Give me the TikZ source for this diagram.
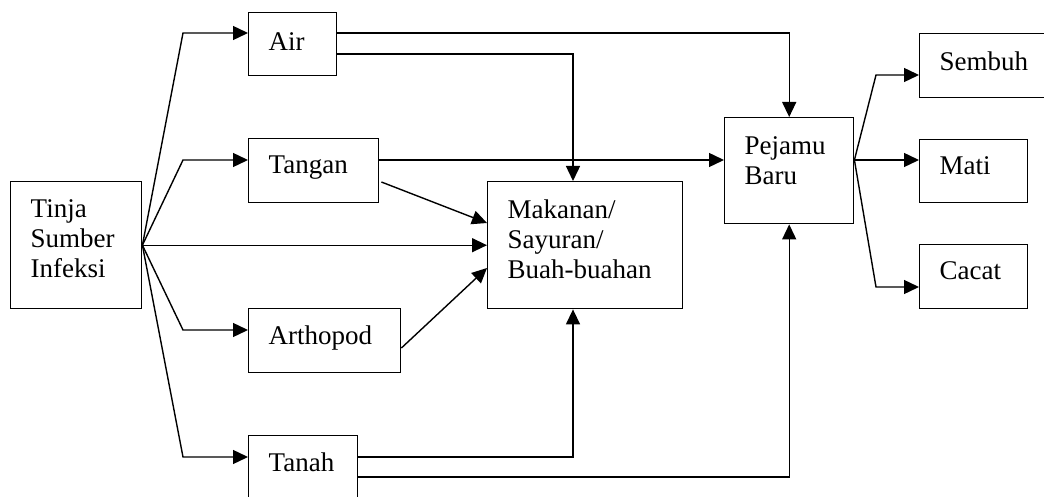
\documentclass[tikz,border=0pt]{standalone}
\usepackage{fontspec}
\setmainfont{Liberation Serif}
\usetikzlibrary{arrows.meta, calc}

% box content: width, height, top gap, text
\newcommand{\isi}[4]{\parbox[t][#2][t]{#1}{\vspace*{#3}\leftskip=20pt\noindent #4}}

\begin{document}
\begin{tikzpicture}[
    x=1pt, y=-1pt,
    kotak/.style={draw, line width=1.4pt, anchor=north west, inner sep=0pt,
                  font=\fontsize{27}{30}\selectfont},
    panah/.style={-{Triangle[length=15pt, width=14pt]}, line width=1.4pt}
  ]
  \clip (0,0) rectangle (1044,497);

  \node[kotak] (tinja) at (10,181) {\isi{131pt}{127pt}{18pt}{Tinja\\Sumber\\Infeksi}};
  \node[kotak] (air) at (248,12) {\isi{88pt}{63pt}{20pt}{Air}};
  \node[kotak] (tangan) at (248,138) {\isi{130pt}{64pt}{17pt}{Tangan}};
  \node[kotak] (arthopod) at (248,308) {\isi{152pt}{64pt}{17pt}{Arthopod}};
  \node[kotak] (tanah) at (248,435) {\isi{109pt}{75pt}{17pt}{Tanah}};
  \node[kotak] (makanan) at (487,181) {\isi{195pt}{127pt}{18pt}{Makanan/\\Sayuran/\\Buah-buahan}};
  \node[kotak] (pejamu) at (724,117) {\isi{129pt}{106pt}{19pt}{Pejamu\\Baru}};
  \node[kotak] (sembuh) at (919,33) {\isi{131pt}{64pt}{18pt}{Sembuh}};
  \node[kotak] (mati) at (919,139) {\isi{108pt}{63pt}{17pt}{Mati}};
  \node[kotak] (cacat) at (919,244) {\isi{108pt}{64pt}{17pt}{Cacat}};

  % sumber ke media
  \foreach \n/\dy in {air/21, tangan/22, arthopod/22, tanah/22}
    \draw[panah] (tinja.east) -- ($(\n.north west)+(-65,\dy)$) -- ($(\n.north west)+(0,\dy)$);
  \draw[panah] (tinja.east) -- (makanan.west);

  % media ke makanan dan pejamu
  \draw[panah] ($(air.north east)+(0,21)$) -| (pejamu.north);
  \draw[panah] ($(air.north east)+(0,42)$) -| ($(makanan.north west)+(86,0)$);
  \draw[panah] ($(tangan.north east)+(0,22)$) -- ($(pejamu.north west)+(0,43)$);
  \draw[panah] ($(tangan.north east)+(2,44)$) -- ($(makanan.north west)+(0,42)$);
  \draw[panah] ($(arthopod.north east)+(0,40)$) -- ($(makanan.north west)+(0,87)$);
  \draw[panah] ($(tanah.north east)+(0,22)$) -| ($(makanan.south west)+(86,0)$);
  \draw[panah] ($(tanah.north east)+(0,42)$) -| (pejamu.south);

  % akibat
  \foreach \n/\dy in {sembuh/42, mati/21, cacat/43}
    \draw[panah] ($(pejamu.north east)+(0,43)$) -- ($(\n.north west)+(-43,\dy)$) -- ($(\n.north west)+(0,\dy)$);
\end{tikzpicture}
\end{document}
